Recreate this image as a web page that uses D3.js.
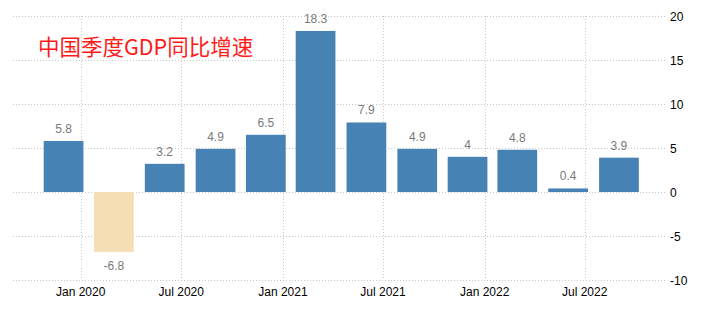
<!DOCTYPE html>
<html>
<head>
<meta charset="utf-8">
<script src="https://d3js.org/d3.v7.min.js"></script>
<style>
  body { margin: 0; background: #fff; }
  text { font-family: "Liberation Sans", Arial, sans-serif; }
</style>
</head>
<body>
<svg id="chart" width="710" height="311"></svg>
<script>
// quarterly GDP growth, bars centred on the first day of each quarter's last month
var quarters = ["2019-12-01", "2020-03-01", "2020-06-01", "2020-09-01", "2020-12-01", "2021-03-01",
                "2021-06-01", "2021-09-01", "2021-12-01", "2022-03-01", "2022-06-01", "2022-09-01"];
var growth = [5.8, -6.8, 3.2, 4.9, 6.5, 18.3, 7.9, 4.9, 4, 4.8, 0.4, 3.9];
var valueLabels = ["5.8", "-6.8", "3.2", "4.9", "6.5", "18.3", "7.9", "4.9", "4", "4.8", "0.4", "3.9"];
var xTicks = ["2020-01-01", "2020-07-01", "2021-01-01", "2021-07-01", "2022-01-01", "2022-07-01"];
var yTicks = [-10, -5, 0, 5, 10, 15, 20];
var title = "中国季度GDP同比增速";

var parse = d3.timeParse("%Y-%m-%d");
var svg = d3.select("#chart");
var left = 13, right = 665;

// time scale anchored on the first and last labelled month
var x = d3.scaleTime()
    .domain([parse(xTicks[0]), parse(xTicks[xTicks.length - 1])])
    .range([80.7, 584.7]);
var y = d3.scaleLinear().domain([-10, 20]).range([280, 16]);

// gridlines
svg.append("g").selectAll("line.h").data(yTicks).enter().append("line")
    .attr("x1", left).attr("x2", right)
    .attr("y1", d => y(d) + 0.5).attr("y2", d => y(d) + 0.5)
    .attr("stroke", "#c8c8c8").attr("stroke-dasharray", "1,2");
svg.append("g").selectAll("line.v").data(xTicks).enter().append("line")
    .attr("x1", d => Math.round(x(parse(d))) + 0.5).attr("x2", d => Math.round(x(parse(d))) + 0.5)
    .attr("y1", y(20)).attr("y2", y(-10))
    .attr("stroke", "#c8c8c8").attr("stroke-dasharray", "1,2");

// bars
var quarterPx = x(parse("2020-04-01")) - x(parse("2020-01-01"));
var bw = quarterPx * 0.79;
svg.append("g").selectAll("rect").data(growth).enter().append("rect")
    .attr("x", (d, i) => x(parse(quarters[i])) - bw / 2)
    .attr("width", bw)
    .attr("y", d => y(Math.max(0, d)))
    .attr("height", d => Math.abs(y(d) - y(0)))
    .attr("fill", d => d < 0 ? "#f5deb3" : "#4682b4");

// value labels
svg.append("g").selectAll("text").data(growth).enter().append("text")
    .attr("x", (d, i) => x(parse(quarters[i])))
    .attr("y", d => d < 0 ? y(d) + 18 : y(d) - 8)
    .attr("text-anchor", "middle")
    .attr("font-size", 12)
    .attr("fill", "#7a7a7a")
    .text((d, i) => valueLabels[i]);

// y axis labels on the right
svg.append("g").selectAll("text").data(yTicks).enter().append("text")
    .attr("x", 670)
    .attr("y", d => y(d) + 4.5)
    .attr("font-size", 12)
    .attr("fill", "#000")
    .text(d => d);

// x axis labels
var fmt = d3.timeFormat("%b %Y");
svg.append("g").selectAll("text").data(xTicks).enter().append("text")
    .attr("x", d => x(parse(d)))
    .attr("y", 296)
    .attr("text-anchor", "middle")
    .attr("font-size", 12)
    .attr("fill", "#000")
    .text(d => fmt(parse(d)));

// title
svg.append("text")
    .attr("x", 38).attr("y", 55)
    .attr("font-size", 21.5)
    .attr("fill", "#ff1a1a")
    .style("font-family", "'Noto Sans CJK SC', sans-serif")
    .text(title);
</script>
</body>
</html>
